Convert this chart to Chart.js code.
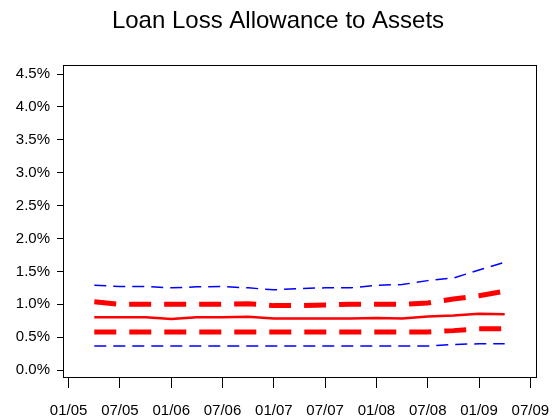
<!DOCTYPE html>
<html>
<head>
<meta charset="utf-8">
<script src="https://cdn.jsdelivr.net/npm/chart.js@4"></script>
<style>
  html, body { margin: 0; padding: 0; background: #fff; }
  #wrap { width: 552px; height: 419px; }
</style>
</head>
<body>
<div id="wrap"><canvas id="c" width="552" height="419"></canvas></div>
<script>
// ---- data ----
const title = 'Loan Loss Allowance to Assets';
const quarters = ['04/05','07/05','10/05','01/06','04/06','07/06','10/06','01/07','04/07','07/07','10/07','01/08','04/08','07/08','10/08','01/09','04/09'];
const xTickLabels = ['01/05','07/05','01/06','07/06','01/07','07/07','01/08','07/08','01/09','07/09'];
const yTickValues = [0, 0.5, 1.0, 1.5, 2.0, 2.5, 3.0, 3.5, 4.0, 4.5];
const upperBlue = [1.29, 1.27, 1.27, 1.25, 1.265, 1.27, 1.25, 1.22, 1.24, 1.25, 1.25, 1.29, 1.30, 1.36, 1.40, 1.52, 1.64];
const upperRed  = [1.04, 1.00, 1.00, 1.00, 1.00, 1.00, 1.01, 0.98, 0.98, 0.99, 1.00, 1.00, 1.00, 1.02, 1.08, 1.13, 1.20];
const median    = [0.805, 0.805, 0.805, 0.775, 0.805, 0.805, 0.81, 0.785, 0.785, 0.785, 0.785, 0.79, 0.785, 0.815, 0.83, 0.855, 0.85];
const lowerRed  = [0.58, 0.58, 0.58, 0.58, 0.58, 0.58, 0.58, 0.58, 0.58, 0.58, 0.58, 0.58, 0.58, 0.58, 0.60, 0.63, 0.63];
const lowerBlue = [0.365, 0.365, 0.365, 0.365, 0.365, 0.365, 0.365, 0.365, 0.365, 0.365, 0.365, 0.365, 0.365, 0.365, 0.39, 0.40, 0.40];

// position of a "MM/YY" label in quarters after 01/05
function qpos(s) {
  const [mm, yy] = s.split('/').map(Number);
  return (yy - 5) * 4 + (mm - 1) / 3;
}
const xTickPos = xTickLabels.map(qpos);
function series(vals) { return vals.map((v, i) => ({ x: qpos(quarters[i]), y: v })); }

const boxPlugin = {
  id: 'box',
  afterDraw(chart) {
    const a = chart.chartArea, ctx = chart.ctx;
    ctx.save();
    ctx.strokeStyle = '#000';
    ctx.lineWidth = 1;
    ctx.strokeRect(Math.round(a.left) + 0.5, Math.round(a.top) + 0.5,
                   Math.round(a.right - a.left) - 1, Math.round(a.bottom - a.top) - 1);
    ctx.restore();
  }
};

const font = { family: 'Liberation Sans, Arial, sans-serif', size: 15 };

new Chart(document.getElementById('c'), {
  type: 'line',
  data: {
    datasets: [
      { data: series(upperBlue), borderColor: '#0000ff', borderWidth: 1.5, borderDash: [12, 7] },
      { data: series(lowerBlue), borderColor: '#0000ff', borderWidth: 1.5, borderDash: [12, 7] },
      { data: series(upperRed), borderColor: '#ff0000', borderWidth: 5, borderDash: [22, 13] },
      { data: series(lowerRed), borderColor: '#ff0000', borderWidth: 5, borderDash: [22, 13] },
      { data: series(median), borderColor: '#ff0000', borderWidth: 2.5 }
    ]
  },
  options: {
    responsive: false,
    animation: false,
    devicePixelRatio: 1,
    layout: { padding: { left: 4, right: 0, top: 0, bottom: 0 } },
    elements: { point: { radius: 0 }, line: { tension: 0, fill: false } },
    plugins: {
      legend: { display: false },
      tooltip: { enabled: false },
      title: {
        display: true, text: title, color: '#000',
        font: { family: 'Liberation Sans, Arial, sans-serif', size: 24, weight: 'normal' },
        padding: { top: 7, bottom: 29.2 }
      }
    },
    scales: {
      x: {
        type: 'linear', min: -0.22, max: 18.26,
        afterBuildTicks: s => { s.ticks = xTickPos.map(v => ({ value: v })); },
        afterFit: s => { s.height = 41; s.paddingLeft = 0; s.paddingRight = 0; },
        border: { display: false },
        grid: { display: true, drawOnChartArea: false, drawTicks: true, tickLength: 10, color: '#000', lineWidth: 1 },
        ticks: {
          color: '#000', font, padding: 14, maxRotation: 0, autoSkip: false,
          callback: (v) => { const i = xTickPos.indexOf(v); return i >= 0 ? xTickLabels[i] : ''; }
        }
      },
      y: {
        type: 'linear', min: -0.12, max: 4.637,
        afterBuildTicks: s => { s.ticks = yTickValues.map(v => ({ value: v })); },
        afterFit: s => { s.width = 59; s.paddingTop = 0; s.paddingBottom = 0; },
        border: { display: false },
        grid: { display: true, drawOnChartArea: false, drawTicks: true, tickLength: 6, color: '#000', lineWidth: 1 },
        ticks: {
          color: '#000', font, padding: 7, autoSkip: false,
          callback: v => v.toFixed(1) + '%'
        }
      },
      yRight: {
        type: 'linear', position: 'right', display: true,
        afterFit: s => { s.width = 15; s.paddingTop = 0; s.paddingBottom = 0; },
        border: { display: false },
        grid: { display: false },
        ticks: { display: false }
      }
    }
  },
  plugins: [boxPlugin]
});
</script>
</body>
</html>
